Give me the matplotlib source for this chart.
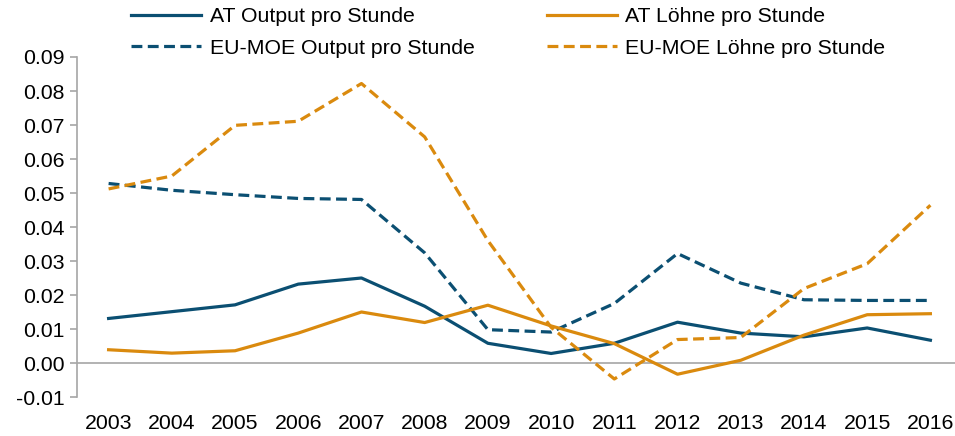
import numpy as np
import matplotlib.pyplot as plt
from matplotlib.ticker import FormatStrFormatter

plt.rcParams['font.family'] = ['Liberation Sans', 'DejaVu Sans']

years = [str(y) for y in range(2003, 2017)]
at_output = [0.0131, 0.0151, 0.0171, 0.0232, 0.0250, 0.0167, 0.0058, 0.0028,
             0.0058, 0.0120, 0.0088, 0.0077, 0.0103, 0.0067]
at_wages = [0.0039, 0.0029, 0.0036, 0.0088, 0.0150, 0.0119, 0.0170, 0.0109,
            0.0057, -0.0033, 0.0008, 0.0082, 0.0142, 0.0145]
eu_output = [0.0528, 0.0508, 0.0495, 0.0484, 0.0481, 0.0324, 0.0098, 0.0091,
             0.0175, 0.0322, 0.0235, 0.0186, 0.0184, 0.0184]
eu_wages = [0.0512, 0.0550, 0.0699, 0.0711, 0.0822, 0.0665, 0.0360, 0.0105,
            -0.0047, 0.0069, 0.0075, 0.0219, 0.0292, 0.0464]

navy = "#0b4f72"
orange = "#da8a0e"
grey = "#a6a6a6"

fig = plt.figure(figsize=(9.55, 4.36), dpi=100)
ax = fig.add_axes([77 / 955, 39 / 436, 885 / 955, 340 / 436])

x = np.arange(len(years))
lw = 2.3
dash = (0, (3.4, 1.7))
# plotted in legend order (filled column by column)
ax.plot(x, at_output, color=navy, lw=lw, label="AT Output pro Stunde")
ax.plot(x, eu_output, color=navy, lw=lw, ls=dash, label="EU-MOE Output pro Stunde")
ax.plot(x, at_wages, color=orange, lw=lw, label="AT Löhne pro Stunde")
ax.plot(x, eu_wages, color=orange, lw=lw, ls=dash, label="EU-MOE Löhne pro Stunde")

ax.axhline(0, color=grey, lw=1.2, zorder=0)
ax.set_xlim(-0.5, len(years) - 0.5)
ax.set_ylim(-0.01, 0.09)
ax.set_yticks(np.arange(-0.01, 0.0901, 0.01))
ax.yaxis.set_major_formatter(FormatStrFormatter('%.2f'))
ax.set_xticks(x)
ax.set_xticklabels(years)

for side in ['top', 'right', 'bottom']:
    ax.spines[side].set_visible(False)
ax.spines['left'].set_color(grey)
ax.spines['left'].set_linewidth(1.2)
ax.tick_params(axis='y', direction='out', length=5, width=1.2, color=grey,
               labelsize=15.3, pad=4)
ax.tick_params(axis='x', length=0, labelsize=15.3, pad=12)

fig.legend(loc='upper left', bbox_to_anchor=(116 / 955, 1.018), ncol=2,
           frameon=False, fontsize=15.3, handlelength=3.3, handletextpad=0.4,
           columnspacing=3.4, labelspacing=0.6, borderpad=0.2)

fig.savefig("out.png", dpi=100)
